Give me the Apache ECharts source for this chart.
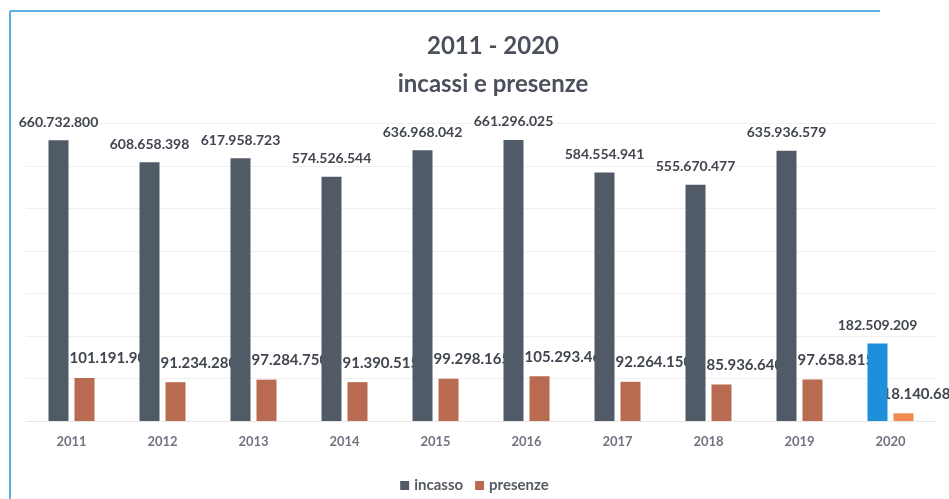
<!DOCTYPE html>
<html>
<head>
<meta charset="utf-8">
<script src="https://cdn.jsdelivr.net/npm/echarts@6/dist/echarts.min.js"></script>
<style>
html,body{margin:0;padding:0;background:#fff;}
#c{width:949px;height:499px;}
</style>
</head>
<body>
<div id="c"></div>
<script>
const years = ['2011','2012','2013','2014','2015','2016','2017','2018','2019','2020'];
const incasso = [660732800, 608658398, 617958723, 574526544, 636968042, 661296025, 584554941, 555670477, 635936579, 182509209];
const presenze = [101191900, 91234280, 97284750, 91390515, 99298165, 105293460, 92264150, 85936640, 97658815, 18140680];
const yTicks = [0, 100000000, 200000000, 300000000, 400000000, 500000000, 600000000, 700000000];

const fmt = v => String(Math.round(v)).replace(/\B(?=(\d{3})+(?!\d))/g, '.');
const FONT = 'Lato';
const last = years.length - 1;

const chart = echarts.init(document.getElementById('c'));
chart.setOption({
  backgroundColor: '#ffffff',
  animation: false,
  title: {
    text: '2011 - 2020\nincassi e presenze',
    left: 488, top: 22, textAlign: 'center',
    textStyle: { fontFamily: FONT, fontSize: 24, fontWeight: 'bold', color: '#4b505c', lineHeight: 38 }
  },
  legend: {
    bottom: 1, left: 'center',
    itemWidth: 9, itemHeight: 9, itemGap: 12,
    icon: 'rect',
    data: ['incasso', 'presenze'],
    textStyle: { fontFamily: FONT, fontSize: 15, fontWeight: 'bold', color: '#555a64' }
  },
  grid: { left: 26, right: 13, top: 123.5, bottom: 78, containLabel: false },
  xAxis: {
    type: 'category', data: years,
    axisLine: { show: true, lineStyle: { color: '#e6e6e6' } },
    axisTick: { show: false },
    axisLabel: { fontFamily: FONT, fontSize: 13, fontWeight: 'bold', color: '#707480', margin: 14 }
  },
  yAxis: {
    type: 'value', min: yTicks[0], max: yTicks[yTicks.length - 1], interval: yTicks[1] - yTicks[0],
    axisLabel: { show: false },
    axisLine: { show: false }, axisTick: { show: false },
    splitLine: { lineStyle: { color: '#f0f0f0' } }
  },
  series: [
    {
      name: 'incasso', type: 'bar', z: 5,
      barWidth: 20, barGap: '30%',
      itemStyle: { color: '#515a67' },
      data: incasso.map((v, i) => i === last ? { value: v, itemStyle: { color: '#1f8fdc' } } : v),
      label: {
        show: true, position: 'top', distance: 11,
        formatter: p => fmt(p.value),
        fontFamily: FONT, fontSize: 14, fontWeight: 'bold', color: '#40454f'
      }
    },
    {
      name: 'presenze', type: 'bar', z: 2,
      barWidth: 20,
      itemStyle: { color: '#b86b50' },
      data: presenze.map((v, i) => i === last
        ? { value: v, itemStyle: { color: '#f08a4e' }, label: { offset: [-21, 0] } }
        : v),
      label: {
        show: true, position: 'top', distance: 12, align: 'left', offset: [-15, 0],
        formatter: p => fmt(p.value),
        fontFamily: FONT, fontSize: 15, fontWeight: 'bold', color: '#40454f'
      }
    }
  ],
  graphic: [
    { type: 'line', shape: { x1: 10, y1: 11, x2: 880, y2: 11 }, style: { stroke: '#5aaee0', lineWidth: 2 } },
    { type: 'line', shape: { x1: 10, y1: 11, x2: 10, y2: 499 }, style: { stroke: '#5aaee0', lineWidth: 2 } }
  ]
});
</script>
</body>
</html>
